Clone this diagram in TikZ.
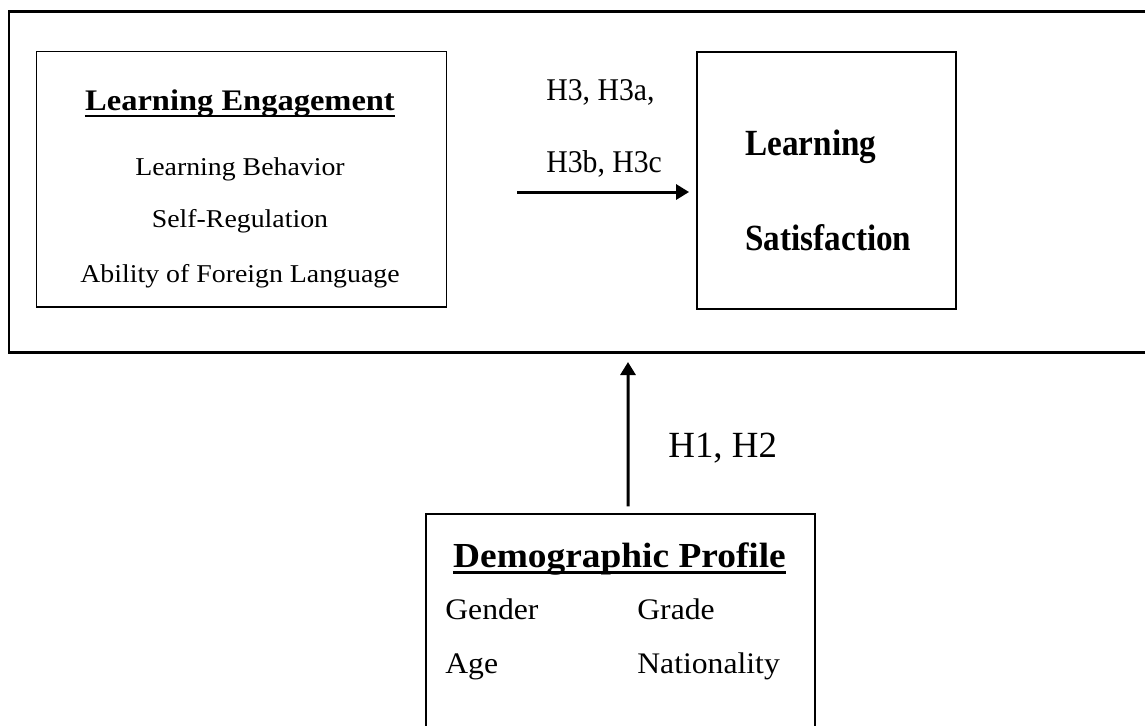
\documentclass[tikz,border=0pt]{standalone}
\usepackage{fontspec}
\usepackage{graphicx}
\setmainfont{Liberation Serif}
\usetikzlibrary{arrows.meta}

% stretch a label sideways only
\newcommand{\wide}[2]{\scalebox{#1}[1]{#2}}

\begin{document}
\begin{tikzpicture}[x=0.02cm,y=-0.02cm,
    box/.style={draw,rectangle,inner sep=0pt},
    txt/.style={inner sep=0pt,anchor=base},
    lefttxt/.style={inner sep=0pt,anchor=base west},
    body/.style={font=\fontsize{14.6}{17}\selectfont},
    hyp/.style={font=\fontsize{18}{21}\selectfont},
    big/.style={font=\fontsize{21}{24}\selectfont\bfseries},
    demotxt/.style={font=\fontsize{17}{20}\selectfont},
    uline/.style={line width=1.6pt},
    arr/.style={line width=1.7pt,-{Triangle[length=2.6mm,width=3mm]}}]
  \useasboundingbox (0,0) rectangle (1145,725);
  \clip (0,0) rectangle (1145,725);

  % outer frame, runs off the right edge
  \draw[line width=1.7pt] (9,11) rectangle (1170,352);

  % learning engagement
  \node[box,line width=0.6pt,minimum width=8.22cm,minimum height=5.12cm] (le) at (241.5,179) {};
  \node[txt,font=\fontsize{17}{20}\selectfont\bfseries] (letitle) at (240,110) {\wide{1.088}{Learning Engagement}};
  \draw[uline] ([yshift=-0.12cm]letitle.base west) -- ([yshift=-0.12cm]letitle.base east);
  \node[txt,body] (beh) at (240,175) {\wide{1.085}{Learning Behavior}};
  \node[txt,body] (selfreg) at (240,227) {\wide{1.085}{Self-Regulation}};
  \node[txt,body] (lang) at (240,282) {\wide{1.085}{Ability of Foreign Language}};

  % learning satisfaction
  \node[box,line width=1.1pt,minimum width=5.18cm,minimum height=5.14cm] (sat) at (826.5,180.5) {};
  \node[lefttxt,big] (sat1) at (745,155) {\wide{0.9}{Learning}};
  \node[lefttxt,big] (sat2) at (745,250) {\wide{0.9}{Satisfaction}};

  % demographic profile, runs off the bottom
  \node[box,line width=0.8pt,minimum width=7.78cm,minimum height=5.2cm] (demo) at (620.5,644) {};
  \node[txt,font=\fontsize{20}{23}\selectfont\bfseries] (demotitle) at (619.5,567) {\wide{1.064}{Demographic Profile}};
  \draw[uline] ([yshift=-0.11cm]demotitle.base west) -- ([yshift=-0.11cm]demotitle.base east);
  \node[lefttxt,demotxt] (gender) at (445,619) {\wide{1.06}{Gender}};
  \node[lefttxt,demotxt] (grade) at (637,619) {\wide{1.06}{Grade}};
  \node[lefttxt,demotxt] (age) at (445,673) {\wide{1.06}{Age}};
  \node[lefttxt,demotxt] (nation) at (637,673) {\wide{1.06}{Nationality}};

  % hypotheses
  \coordinate (h3start) at (517,192);
  \draw[arr,shorten >=0.14cm] (h3start) -- (h3start -| sat.west);
  \node[lefttxt,hyp] (h3a) at (546,100) {\wide{0.94}{H3, H3a,}};
  \node[lefttxt,hyp] (h3b) at (546,172) {\wide{0.94}{H3b, H3c}};

  \coordinate (h12end) at (628,362);
  \draw[arr,shorten <=0.14cm] ([xshift=0.15cm]demo.north) -- (h12end);
  \node[lefttxt,font=\fontsize{21}{24}\selectfont] (h12) at (668,457) {H1, H2};
\end{tikzpicture}
\end{document}
